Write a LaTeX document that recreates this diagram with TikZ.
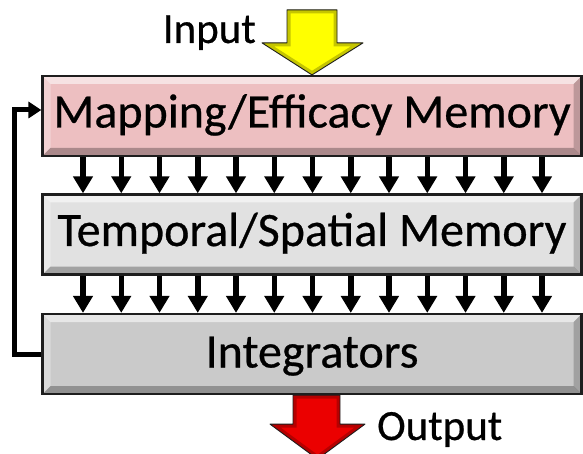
\documentclass[tikz,border=0pt]{standalone}
\usepackage{fontspec}
\setmainfont{Carlito}
\newfontfamily\labelfont[UprightFeatures={FakeBold=0.6}]{Carlito}
\usetikzlibrary{arrows.meta}

\definecolor{mapfill}{RGB}{237,191,193}
\definecolor{tempfill}{RGB}{225,225,225}
\definecolor{intfill}{RGB}{202,202,202}
\definecolor{edgeline}{RGB}{30,30,30}
\definecolor{inyellow}{RGB}{255,255,0}
\definecolor{inrim}{RGB}{150,150,0}
\definecolor{outred}{RGB}{235,0,0}
\definecolor{outrim}{RGB}{140,0,0}

\tikzset{
  layer/.style={
    draw=edgeline, line width=2.2pt, inner sep=0pt,
    minimum width=539pt, minimum height=80pt,
    text height=32pt, text depth=9pt,
    font=\labelfont\fontsize{48}{52}\selectfont,
    path picture={
      \path (path picture bounding box.north west) coordinate (pnw)
            (path picture bounding box.north east) coordinate (pne)
            (path picture bounding box.south west) coordinate (psw)
            (path picture bounding box.south east) coordinate (pse);
      % bevelled rim: light from the top left, shade to the bottom right
      \fill[white,opacity=.55] (pnw) -- (pne) -- ([shift={(-8pt,-8pt)}]pne) -- ([shift={(8pt,-8pt)}]pnw) -- cycle;
      \fill[white,opacity=.30] (pnw) -- ([shift={(8pt,-8pt)}]pnw) -- ([shift={(8pt,8pt)}]psw) -- (psw) -- cycle;
      \fill[black,opacity=.28] (psw) -- (pse) -- ([shift={(-8pt,8pt)}]pse) -- ([shift={(8pt,8pt)}]psw) -- cycle;
      \fill[black,opacity=.20] (pne) -- (pse) -- ([shift={(-8pt,8pt)}]pse) -- ([shift={(-8pt,-8pt)}]pne) -- cycle;
    }},
  flow/.style={draw=black, line width=5.5pt, -{Triangle[width=19pt,length=17pt]}},
  feedback/.style={draw=black, line width=5pt, -{Triangle[width=16pt,length=13pt]}},
  caption/.style={inner sep=0pt, font=\labelfont\fontsize{43}{46}\selectfont},
}

% block arrows for the input and the output
\newcommand\InPath{(map.north) -- ++(-50,-32) -- ++(25,0) -- ++(0,-33) -- ++(50,0) -- ++(0,33) -- ++(26,0) -- cycle}
\newcommand\OutPath{([xshift=-19pt]integ.south) -- ++(47,0) -- ++(0,29) -- ++(25,0) -- ++(-47.5,35) -- ++(-47.5,-35) -- ++(23,0) -- cycle}

\begin{document}
\begin{tikzpicture}[x=1pt,y=-1pt]
  \clip (0,0) rectangle (583,454);
  \fill[white] (0,0) rectangle (583,454);

  \node[layer, fill=mapfill]  (map)   at (312,116)   {Mapping/Efficacy Memory};
  \node[layer, fill=tempfill] (temp)  at (312,234.5) {Temporal/Spatial Memory};
  \node[layer, fill=intfill, text depth=5pt] (integ) at (312,354) {Integrators};

  % parallel links between the layers
  \foreach \i [evaluate=\i as \x using 83+38.25*\i] in {0,...,12} {
    \draw[flow] (\x,0 |- map.south) -- (\x,0 |- temp.north);
    \draw[flow] (\x,0 |- temp.south) -- (\x,0 |- integ.north);
  }

  % feedback from the integrators to the mapping memory
  \draw[feedback] (integ.west) -- ++(-27,0) |- ([yshift=6pt]map.west);

  % input arrow
  \begin{scope}
    \clip \InPath;
    \fill[inyellow] \InPath;
    \draw[inrim, line width=7pt, opacity=.55] \InPath;
  \end{scope}
  \draw[edgeline, line width=0.9pt, line join=round] \InPath;
  \node[caption, anchor=base east] (inlbl) at (256,43) {Input};

  % output arrow
  \begin{scope}
    \clip \OutPath;
    \fill[outred] \OutPath;
    \draw[outrim, line width=7pt, opacity=.55] \OutPath;
  \end{scope}
  \draw[edgeline, line width=0.9pt, line join=round] \OutPath;
  \node[caption, anchor=base west] (outlbl) at (377,440) {Output};
\end{tikzpicture}
\end{document}
